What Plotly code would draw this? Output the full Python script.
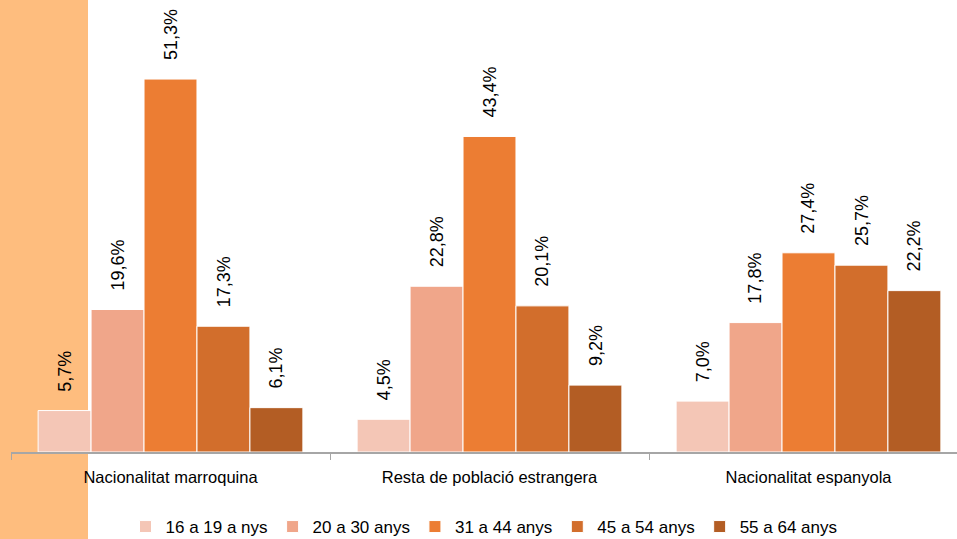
import plotly.graph_objects as go

categories = ["Nacionalitat marroquina", "Resta de població estrangera", "Nacionalitat espanyola"]
series_names = ["16 a 19 a nys", "20 a 30 anys", "31 a 44 anys", "45 a 54 anys", "55 a 64 anys"]
values_16_19 = [5.7, 4.5, 7.0]
values_20_30 = [19.6, 22.8, 17.8]
values_31_44 = [51.3, 43.4, 27.4]
values_45_54 = [17.3, 20.1, 25.7]
values_55_64 = [6.1, 9.2, 22.2]
series_values = [values_16_19, values_20_30, values_31_44, values_45_54, values_55_64]
colors = ["#F4C6B6", "#F0A68A", "#EC7D33", "#D26E2C", "#B35D24"]

FONT = "Liberation Sans Narrow, Arial Narrow, Liberation Sans, Arial, sans-serif"

W, H = 957, 539
ML, MR, MT, MB = 11, 0, 0, 87
plot_w = W - ML - MR
plot_h = H - MT - MB
cat_px = 319.0
x_range = [-0.5, -0.5 + plot_w / cat_px]
bargap = 0.17
bar_px = cat_px * (1 - bargap) / len(series_names)

fig = go.Figure()
for name, vals, col in zip(series_names, series_values, colors):
    fig.add_trace(go.Bar(
        x=categories, y=vals, name=name,
        marker=dict(color=col, line=dict(color="white", width=1)),
    ))

n = len(series_names)
for j, vals in enumerate(series_values):
    for i, v in enumerate(vals):
        fig.add_annotation(
            x=categories[i], y=v, xref="x", yref="y",
            text=f"{v:.1f}%".replace(".", ","),
            textangle=-90, showarrow=False,
            xanchor="center", yanchor="bottom",
            xshift=(j - (n - 1) / 2) * bar_px, yshift=17,
            font=dict(family=FONT, size=18, color="#000000"),
        )

fig.add_shape(
    type="rect", xref="paper", yref="paper",
    x0=-ML / plot_w, x1=(88 - ML) / plot_w,
    y0=-MB / plot_h, y1=1.0,
    fillcolor="#FEBD7E", line=dict(width=0), layer="below",
)

fig.update_layout(
    width=W, height=H,
    margin=dict(l=ML, r=MR, t=MT, b=MB, autoexpand=False),
    paper_bgcolor="white", plot_bgcolor="rgba(0,0,0,0)",
    barmode="group", bargap=bargap, bargroupgap=0,
    font=dict(family=FONT, size=17, color="#000000"),
    showlegend=True,
    legend=dict(orientation="h", x=0.5, xanchor="center",
                y=(plot_h - (527 - MT)) / plot_h, yanchor="middle",
                font=dict(family=FONT, size=17), itemwidth=30,
                bgcolor="rgba(0,0,0,0)"),
    xaxis=dict(range=x_range, showline=True, linecolor="#A6A6A6", linewidth=1.5,
               ticks="outside", tickson="boundaries", ticklen=6, tickcolor="#A6A6A6",
               ticklabelstandoff=9, automargin=False,
               showgrid=False, tickfont=dict(family=FONT, size=16.5)),
    yaxis=dict(range=[0, plot_h / 7.27], visible=False, showgrid=False, zeroline=False),
)

fig.write_html(
    "out.html",
    config={"displayModeBar": False},
    post_script=(
        "document.documentElement.style.overflow='hidden';"
        "document.body.style.margin='0';document.body.style.padding='0';"
        "document.body.style.overflow='hidden';"
    ),
)
